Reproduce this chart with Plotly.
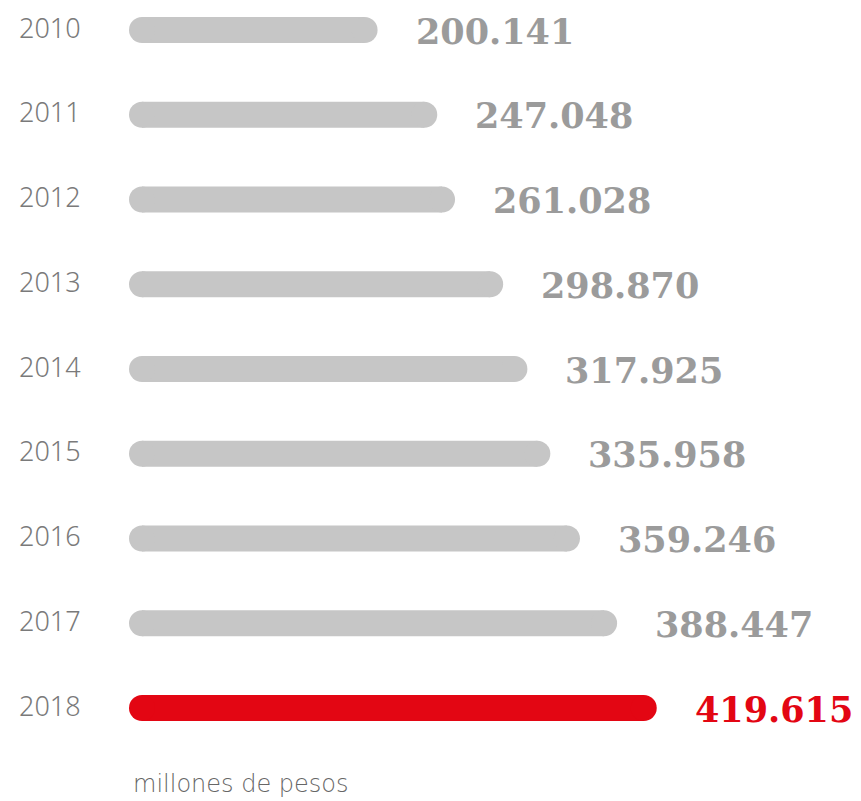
import plotly.graph_objects as go

years = ["2010", "2011", "2012", "2013", "2014", "2015", "2016", "2017", "2018"]
values = [200141, 247048, 261028, 298870, 317925, 335958, 359246, 388447, 419615]
labels = ["200.141", "247.048", "261.028", "298.870", "317.925", "335.958", "359.246", "388.447", "419.615"]
unit_label = "millones de pesos"

GRAY_BAR = "#c6c6c6"
RED = "#e30613"
GRAY_TXT = "#9b9b9b"
YEAR_TXT = "#7a7a7a"

bar_colors = [RED if y == "2018" else GRAY_BAR for y in years]
text_colors = [RED if y == "2018" else GRAY_TXT for y in years]

W, H = 861, 801
BAR_PX = 26
ZERO_PX = 123          # pixel where value 0 sits
LEFT_PX = 129          # pixel where every bar visibly starts
px_per_unit = 0.001272

r_u = (BAR_PX / 2) / px_per_unit  # cap radius in data units
left_u = (LEFT_PX - ZERO_PX) / px_per_unit
x0 = -ZERO_PX / px_per_unit
x1 = (W - ZERO_PX) / px_per_unit
row = (708 - 30) / 8
y_top = -30 / row
y_bot = 8 + (H - 708) / row

idx = list(range(len(years)))

fig = go.Figure()
# straight body of each bar
fig.add_trace(go.Bar(
    x=[v - left_u - 2 * r_u for v in values], base=[left_u + r_u] * len(values), y=idx,
    orientation="h",
    marker=dict(color=bar_colors, line=dict(width=0)),
    width=BAR_PX / row, hoverinfo="skip",
))
# round caps at both ends
fig.add_trace(go.Scatter(
    x=[left_u + r_u] * len(values) + [v - r_u for v in values],
    y=idx + idx, mode="markers",
    marker=dict(size=BAR_PX, color=bar_colors + bar_colors, line=dict(width=0)),
    hoverinfo="skip",
))

annotations = []
for i, (y, v, lab, c) in enumerate(zip(years, values, labels, text_colors)):
    annotations.append(dict(
        x=v, y=i, xref="x", yref="y", text=lab, showarrow=False,
        xanchor="left", yanchor="middle", xshift=36, yshift=-1,
        font=dict(family="DejaVu Serif", size=35, color=c, weight="bold"),
    ))
    annotations.append(dict(
        x=83 / W, y=i, xref="paper", yref="y", text=y, showarrow=False,
        xanchor="right", yanchor="middle", yshift=3,
        font=dict(family="Noto Sans", size=27, color=YEAR_TXT, weight=300),
    ))
annotations.append(dict(
    x=131 / W, y=1 - 784 / H, xref="paper", yref="paper", text=unit_label,
    showarrow=False, xanchor="left", yanchor="middle",
    font=dict(family="DejaVu Sans", size=24, color="#666666", weight=200),
))

fig.update_layout(
    width=W, height=H,
    margin=dict(l=0, r=0, t=0, b=0),
    paper_bgcolor="white", plot_bgcolor="white",
    showlegend=False,
    xaxis=dict(range=[x0, x1], visible=False, fixedrange=True),
    yaxis=dict(range=[y_bot, y_top], visible=False, fixedrange=True),
    annotations=annotations,
)

fig.write_html(
    "out.html",
    config={"displayModeBar": False},
    post_script="document.body.style.margin='0';document.body.style.overflow='hidden';",
)
